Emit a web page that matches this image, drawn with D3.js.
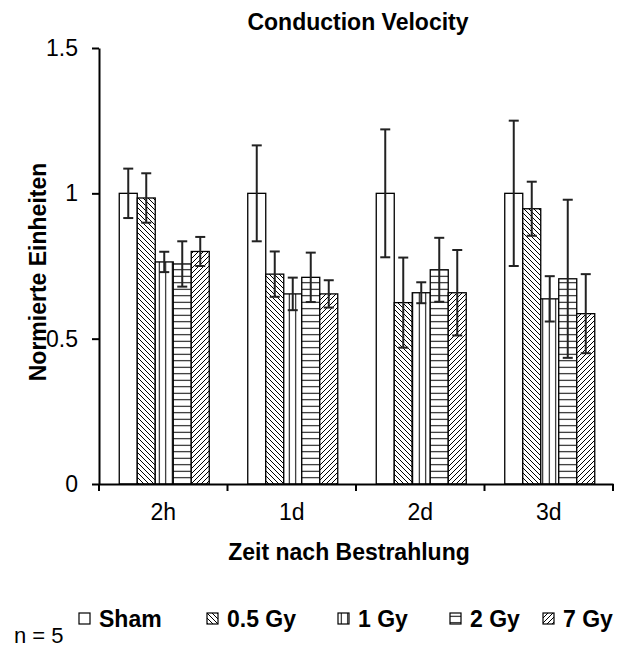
<!DOCTYPE html>
<html>
<head>
<meta charset="utf-8">
<script src="https://cdn.jsdelivr.net/npm/d3@7"></script>
<style>
  body { margin: 0; background: #fff; }
  text { font-family: "Liberation Sans", Arial, sans-serif; fill: #000; }
</style>
</head>
<body>
<div id="wrapper"></div>
<script>
// data
const categories = ["2h", "1d", "2d", "3d"]
const seriesNames = ["Sham", "0.5 Gy", "1 Gy", "2 Gy", "7 Gy"]
const shamValues = [1.0, 1.0, 1.0, 1.0]
const shamErrors = [0.085, 0.165, 0.22, 0.25]
const gy05Values = [0.984, 0.722, 0.624, 0.947]
const gy05Errors = [0.085, 0.078, 0.155, 0.093]
const gy1Values = [0.764, 0.654, 0.658, 0.637]
const gy1Errors = [0.035, 0.056, 0.036, 0.078]
const gy2Values = [0.757, 0.711, 0.737, 0.706]
const gy2Errors = [0.078, 0.085, 0.11, 0.272]
const gy7Values = [0.80, 0.654, 0.658, 0.586]
const gy7Errors = [0.05, 0.047, 0.147, 0.136]
const yTicks = [0, 0.5, 1, 1.5]

const seriesValues = [shamValues, gy05Values, gy1Values, gy2Values, gy7Values]
const seriesErrors = [shamErrors, gy05Errors, gy1Errors, gy2Errors, gy7Errors]
const fills = ["#fff", "url(#p-back)", "url(#p-vert)", "url(#p-horiz)", "url(#p-fwd)"]

const table = []
categories.forEach((c, i) => {
  seriesNames.forEach((s, j) => {
    table.push({ cat: c, series: s, idx: j, value: seriesValues[j][i], err: seriesErrors[j][i] })
  })
})

const width = 633
const height = 650
const margin = { top: 48, right: 20, bottom: 166, left: 99 }
const fontSize = 23

const svg = d3.select("#wrapper").append("svg")
  .attr("width", width)
  .attr("height", height)

// patterns
const defs = svg.append("defs")
const addPattern = (id, size, d) => {
  const p = defs.append("pattern")
    .attr("id", id)
    .attr("patternUnits", "userSpaceOnUse")
    .attr("width", size).attr("height", size)
  p.append("rect").attr("width", size).attr("height", size).attr("fill", "#fff")
  p.append("path").attr("d", d).attr("stroke", "#000").attr("stroke-width", 1).attr("fill", "none")
}
addPattern("p-back", 5, "M-1,4 L1,6 M0,0 L5,5 M4,-1 L6,1")
addPattern("p-fwd", 5, "M-1,1 L1,-1 M0,5 L5,0 M4,6 L6,4")
addPattern("p-vert", 6.5, "M3.25,0 V6.5")
addPattern("p-horiz", 6.5, "M0,3.25 H6.5")

// scales
const xScale = d3.scaleBand()
  .domain(categories)
  .range([margin.left, width - margin.right])
const barGroup = 90
const x1 = d3.scaleBand()
  .domain(seriesNames)
  .range([0, barGroup])
const yScale = d3.scaleLinear()
  .domain([0, 1.5])
  .range([height - margin.bottom, margin.top])

const barX = d => xScale(d.cat) + (xScale.bandwidth() - barGroup) / 2 + 1 + x1(d.series)

// bars
svg.append("g")
  .selectAll("rect")
  .data(table)
  .join("rect")
  .attr("x", barX)
  .attr("y", d => yScale(d.value))
  .attr("width", x1.bandwidth())
  .attr("height", d => yScale(0) - yScale(d.value))
  .attr("fill", d => fills[d.idx])
  .attr("stroke", "#000")
  .attr("stroke-width", 1.3)

// error bars
const errs = svg.append("g")
  .attr("stroke", "#222")
  .attr("stroke-width", 2)
const cx = d => barX(d) + x1.bandwidth() / 2
errs.selectAll("line.v")
  .data(table)
  .join("line")
  .attr("class", "v")
  .attr("x1", cx).attr("x2", cx)
  .attr("y1", d => yScale(d.value + d.err))
  .attr("y2", d => yScale(d.value - d.err))
errs.selectAll("line.t")
  .data(table)
  .join("line")
  .attr("class", "t")
  .attr("x1", d => cx(d) - 5).attr("x2", d => cx(d) + 5)
  .attr("y1", d => yScale(d.value + d.err))
  .attr("y2", d => yScale(d.value + d.err))
errs.selectAll("line.b")
  .data(table)
  .join("line")
  .attr("class", "b")
  .attr("x1", d => cx(d) - 5).attr("x2", d => cx(d) + 5)
  .attr("y1", d => yScale(d.value - d.err))
  .attr("y2", d => yScale(d.value - d.err))

// y axis
const yAxis = svg.append("g")
  .attr("transform", `translate(${margin.left},0)`)
  .call(d3.axisLeft(yScale).tickValues(yTicks).tickFormat(d3.format("")).tickSize(7).tickSizeOuter(0).tickPadding(14))
yAxis.select(".domain").attr("stroke", "#000").attr("stroke-width", 2)
yAxis.selectAll(".tick line").attr("stroke", "#000").attr("stroke-width", 2)
yAxis.selectAll(".tick text")
  .attr("font-size", fontSize)
  .attr("font-family", "Liberation Sans, Arial, sans-serif")
  .attr("fill", "#111")

// x axis
const xAxis = svg.append("g")
  .attr("transform", `translate(0,${yScale(0)})`)
  .call(d3.axisBottom(xScale).tickSize(0).tickPadding(20))
xAxis.select(".domain").attr("stroke", "#000").attr("stroke-width", 2)
xAxis.selectAll(".tick text")
  .attr("font-size", fontSize)
  .attr("font-family", "Liberation Sans, Arial, sans-serif")
  .attr("fill", "#111")
const boundaries = categories.map(c => xScale(c)).concat([xScale.range()[1]])
xAxis.selectAll("line.sep")
  .data(boundaries)
  .join("line")
  .attr("class", "sep")
  .attr("x1", d => d).attr("x2", d => d)
  .attr("y1", 0).attr("y2", 7)
  .attr("stroke", "#000")
  .attr("stroke-width", 2)

// titles
svg.append("text")
  .attr("x", 358).attr("y", 30)
  .attr("text-anchor", "middle")
  .attr("font-size", fontSize)
  .attr("font-weight", "bold")
  .text("Conduction Velocity")

svg.append("text")
  .attr("x", 349).attr("y", 560)
  .attr("text-anchor", "middle")
  .attr("font-size", fontSize)
  .attr("font-weight", "bold")
  .text("Zeit nach Bestrahlung")

svg.append("text")
  .attr("transform", "translate(46,272) rotate(-90)")
  .attr("text-anchor", "middle")
  .attr("font-size", fontSize)
  .attr("font-weight", "bold")
  .text("Normierte Einheiten")

// legend
const legendX = [79, 207, 338, 450, 543]
const legend = svg.append("g")
  .selectAll("g")
  .data(seriesNames)
  .join("g")
  .attr("transform", (d, i) => `translate(${legendX[i]},613)`)
legend.append("rect")
  .attr("width", 11).attr("height", 11)
  .attr("fill", (d, i) => fills[i])
  .attr("stroke", "#000")
  .attr("stroke-width", 1.2)
legend.append("text")
  .attr("x", 20).attr("y", 14)
  .attr("font-size", fontSize)
  .attr("font-weight", "bold")
  .text(d => d)

svg.append("text")
  .attr("x", 14).attr("y", 643)
  .attr("font-size", 22)
  .text("n = 5")
</script>
</body>
</html>
